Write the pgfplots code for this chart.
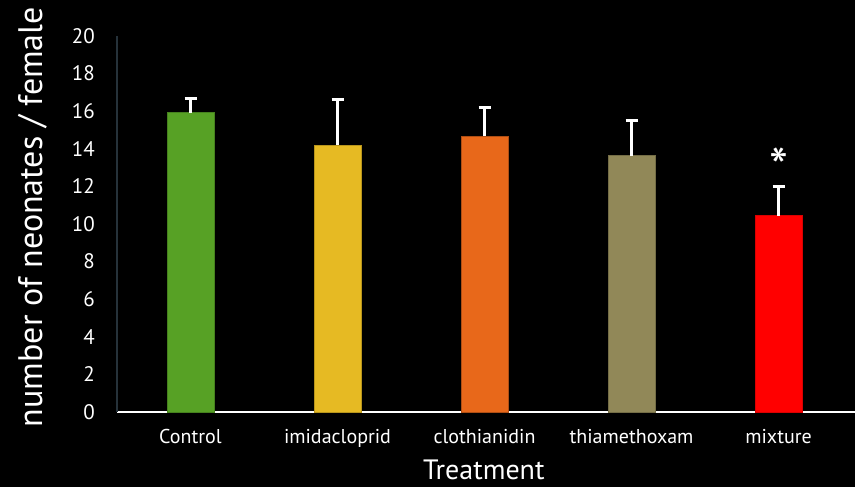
\documentclass[border=0pt]{standalone}
\usepackage{fontspec}
\setmainfont{PT Sans}
\usepackage{pgfplots}
\pgfplotsset{compat=1.18}
\definecolor{cgreen}{HTML}{57A125}
\definecolor{cyellow}{HTML}{E6BA23}
\definecolor{corange}{HTML}{E8681A}
\definecolor{ckhaki}{HTML}{918858}
\definecolor{cred}{HTML}{FF0000}
\definecolor{yaxis}{HTML}{26323A}
\begin{document}
\begin{tikzpicture}
\path[use as bounding box, fill=black] (-117bp,-75bp) rectangle (738bp,412bp);
\begin{axis}[
  at={(0,0)}, anchor=south west,
  scale only axis, width=738bp, height=376bp,
  xmin=-0.5, xmax=4.52, ymin=0, ymax=20, enlargelimits=false,
  axis x line*=bottom, axis y line*=left,
  x axis line style={white, line width=2.2bp},
  y axis line style={yaxis, line width=1.5bp},
  major tick length=0pt,
  xtick={0,1,2,3,4},
  xticklabels={Control,imidacloprid,clothianidin,thiamethoxam,mixture},
  ytick={0,2,...,20},
  yticklabel style={font=\fontsize{21bp}{24bp}\selectfont, text=white, inner sep=0pt, xshift=-22bp},
  xticklabel style={font=\fontsize{20bp}{24bp}\selectfont, text=white, inner sep=0pt, anchor=north, yshift=-17bp},
  xlabel={Treatment},
  xlabel style={font=\fontsize{28bp}{32bp}\selectfont, text=white, inner sep=0pt, at={(axis description cs:0.497,0)}, anchor=north, yshift=-48bp},
  ylabel={number of neonates / female},
  ylabel style={font=\fontsize{34bp}{38bp}\selectfont, text=white, inner sep=0pt, at={(axis description cs:-0.1003,0.5186)}, anchor=base, rotate=0},
  ybar, bar width=47bp,
  every axis plot/.append style={bar shift=0pt, line width=1bp,
    /pgfplots/error bars/y dir=plus, /pgfplots/error bars/y explicit,
    /pgfplots/error bars/error mark=|,
    /pgfplots/error bars/error bar style={white, line width=3.5bp},
    /pgfplots/error bars/error mark options={white, line width=3.3bp, mark size=6bp}},
  clip=false,
  /pgf/number format/assume math mode=true,
]
\addplot[fill=cgreen, draw=cgreen!80!black] coordinates {(0,15.92) +- (0,0.76)};
\addplot[fill=cyellow, draw=cyellow!80!black] coordinates {(1,14.19) +- (0,2.44)};
\addplot[fill=corange, draw=corange!75!black] coordinates {(2,14.67) +- (0,1.53)};
\addplot[fill=ckhaki, draw=ckhaki!80!black] coordinates {(3,13.64) +- (0,1.88)};
\addplot[fill=cred, draw=cred!85!black] coordinates {(4,10.44) +- (0,1.56)};
\node[text=white, font=\fontsize{54bp}{58bp}\selectfont, inner sep=0pt, anchor=base] at (axis cs:4,12.0) {*};
\end{axis}
\end{tikzpicture}
\end{document}
